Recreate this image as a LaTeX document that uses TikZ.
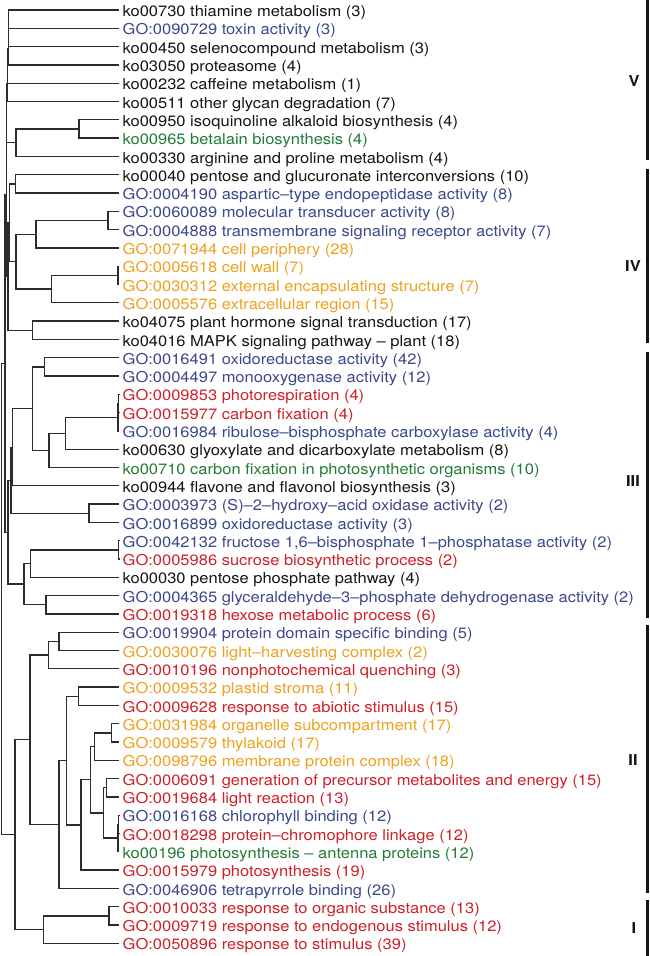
\documentclass[tikz,border=0pt]{standalone}
\usepackage{fontspec}
\setmainfont[FakeStretch=1.1]{TeX Gyre Heros}
\usetikzlibrary{calc}
\definecolor{gblue}{RGB}{58,72,140}
\definecolor{gorange}{RGB}{238,160,30}
\definecolor{gred}{RGB}{206,32,40}
\definecolor{ggreen}{RGB}{34,124,56}
\definecolor{ink}{RGB}{20,20,20}
\tikzset{
  br/.style={draw=ink!90, line width=1.35pt},
  lab/.style={inner sep=0pt, font=\fontsize{15pt}{17pt}\selectfont},
  bar/.style={draw=ink, line width=3pt},
  cl/.style={inner sep=0pt, font=\fontsize{15pt}{17pt}\selectfont\bfseries, text=ink},
}
\newcommand\mkleaf[3]{%
  \coordinate (t#1) at (119,{10+18.3*#1});
  \node[lab, text=#2, anchor=base west] (l#1) at (122.5,{10+18.3*#1+6.6}) {#3};
}
\newcommand\mkjoin[4]{%
  \path let \p1=($(#3)!0.5!(#4)$) in coordinate (#1) at (#2pt,\y1);
  \draw[br] (#1) |- (#3) (#1) |- (#4);
}
\begin{document}
\begin{tikzpicture}[x=1pt,y=-1pt]
\useasboundingbox (0,0) rectangle (650,956);
\mkleaf{0}{ink}{ko00730 thiamine metabolism (3)}
\mkleaf{1}{gblue}{GO:0090729 toxin activity (3)}
\mkleaf{2}{ink}{ko00450 selenocompound metabolism (3)}
\mkleaf{3}{ink}{ko03050 proteasome (4)}
\mkleaf{4}{ink}{ko00232 caffeine metabolism (1)}
\mkleaf{5}{ink}{ko00511 other glycan degradation (7)}
\mkleaf{6}{ink}{ko00950 isoquinoline alkaloid biosynthesis (4)}
\mkleaf{7}{ggreen}{ko00965 betalain biosynthesis (4)}
\mkleaf{8}{ink}{ko00330 arginine and proline metabolism (4)}
\mkleaf{9}{ink}{ko00040 pentose and glucuronate interconversions (10)}
\mkleaf{10}{gblue}{GO:0004190 aspartic–type endopeptidase activity (8)}
\mkleaf{11}{gblue}{GO:0060089 molecular transducer activity (8)}
\mkleaf{12}{gblue}{GO:0004888 transmembrane signaling receptor activity (7)}
\mkleaf{13}{gorange}{GO:0071944 cell periphery (28)}
\mkleaf{14}{gorange}{GO:0005618 cell wall (7)}
\mkleaf{15}{gorange}{GO:0030312 external encapsulating structure (7)}
\mkleaf{16}{gorange}{GO:0005576 extracellular region (15)}
\mkleaf{17}{ink}{ko04075 plant hormone signal transduction (17)}
\mkleaf{18}{ink}{ko04016 MAPK signaling pathway – plant (18)}
\mkleaf{19}{gblue}{GO:0016491 oxidoreductase activity (42)}
\mkleaf{20}{gblue}{GO:0004497 monooxygenase activity (12)}
\mkleaf{21}{gred}{GO:0009853 photorespiration (4)}
\mkleaf{22}{gred}{GO:0015977 carbon fixation (4)}
\mkleaf{23}{gblue}{GO:0016984 ribulose–bisphosphate carboxylase activity (4)}
\mkleaf{24}{ink}{ko00630 glyoxylate and dicarboxylate metabolism (8)}
\mkleaf{25}{ggreen}{ko00710 carbon fixation in photosynthetic organisms (10)}
\mkleaf{26}{ink}{ko00944 flavone and flavonol biosynthesis (3)}
\mkleaf{27}{gblue}{GO:0003973 (S)–2–hydroxy–acid oxidase activity (2)}
\mkleaf{28}{gblue}{GO:0016899 oxidoreductase activity (3)}
\mkleaf{29}{gblue}{GO:0042132 fructose 1,6–bisphosphate 1–phosphatase activity (2)}
\mkleaf{30}{gred}{GO:0005986 sucrose biosynthetic process (2)}
\mkleaf{31}{ink}{ko00030 pentose phosphate pathway (4)}
\mkleaf{32}{gblue}{GO:0004365 glyceraldehyde–3–phosphate dehydrogenase activity (2)}
\mkleaf{33}{gred}{GO:0019318 hexose metabolic process (6)}
\mkleaf{34}{gblue}{GO:0019904 protein domain specific binding (5)}
\mkleaf{35}{gorange}{GO:0030076 light–harvesting complex (2)}
\mkleaf{36}{gred}{GO:0010196 nonphotochemical quenching (3)}
\mkleaf{37}{gorange}{GO:0009532 plastid stroma (11)}
\mkleaf{38}{gred}{GO:0009628 response to abiotic stimulus (15)}
\mkleaf{39}{gorange}{GO:0031984 organelle subcompartment (17)}
\mkleaf{40}{gorange}{GO:0009579 thylakoid (17)}
\mkleaf{41}{gorange}{GO:0098796 membrane protein complex (18)}
\mkleaf{42}{gred}{GO:0006091 generation of precursor metabolites and energy (15)}
\mkleaf{43}{gred}{GO:0019684 light reaction (13)}
\mkleaf{44}{gblue}{GO:0016168 chlorophyll binding (12)}
\mkleaf{45}{gred}{GO:0018298 protein–chromophore linkage (12)}
\mkleaf{46}{ggreen}{ko00196 photosynthesis – antenna proteins (12)}
\mkleaf{47}{gred}{GO:0015979 photosynthesis (19)}
\mkleaf{48}{gblue}{GO:0046906 tetrapyrrole binding (26)}
\mkleaf{49}{gred}{GO:0010033 response to organic substance (13)}
\mkleaf{50}{gred}{GO:0009719 response to endogenous stimulus (12)}
\mkleaf{51}{gred}{GO:0050896 response to stimulus (39)}
% cluster V
\mkjoin{a1}{8.3}{t0}{t1}
\mkjoin{a2}{8.3}{a1}{t2}
\mkjoin{a3}{8.3}{a2}{t3}
\mkjoin{a4}{7.3}{a3}{t4}
\mkjoin{a5}{7.3}{a4}{t5}
\mkjoin{c}{79}{t6}{t7}
\mkjoin{d}{16}{c}{t8}
\mkjoin{nV}{6.7}{a5}{d}
% cluster IV
\mkjoin{e}{15.3}{t9}{t10}
\mkjoin{f}{108}{t11}{t12}
\mkjoin{g}{36}{f}{t13}
\mkjoin{h}{118}{t14}{t15}
\mkjoin{i}{51.7}{h}{t16}
\mkjoin{j}{16}{g}{i}
\mkjoin{k}{9.3}{e}{j}
\mkjoin{l}{32.3}{t17}{t18}
\mkjoin{nIV}{8}{k}{l}
\mkjoin{nVIV}{6.3}{nV}{nIV}
% cluster III
\mkjoin{o1}{44.3}{t19}{t20}
\mkjoin{o2a}{118.5}{t21}{t22}
\mkjoin{o2}{118}{o2a}{t23}
\mkjoin{o3}{65.7}{o2}{t24}
\mkjoin{o4}{49}{o3}{t25}
\mkjoin{o5}{32.3}{o1}{o4}
\mkjoin{o6}{12.3}{o5}{t26}
\mkjoin{o7}{89}{t27}{t28}
\mkjoin{o8}{11}{o6}{o7}
\mkjoin{o9a}{118.5}{t29}{t30}
\mkjoin{o9}{30.7}{o9a}{t31}
\mkjoin{o10}{46}{t32}{t33}
\mkjoin{o11}{24}{o9}{o10}
\mkjoin{nIII}{8}{o8}{o11}
\mkjoin{nX}{5}{nVIV}{nIII}
% cluster II
\mkjoin{p1}{59}{t34}{t35}
\mkjoin{p2}{48.3}{p1}{t36}
\mkjoin{p3}{78.3}{t37}{t38}
\mkjoin{p4}{111.7}{t39}{t40}
\mkjoin{p5}{94.3}{p4}{t41}
\mkjoin{p6}{106.7}{t42}{t43}
\mkjoin{p7a}{118.5}{t44}{t45}
\mkjoin{p7}{118}{p7a}{t46}
\mkjoin{p8}{103.3}{p6}{p7}
\mkjoin{p9}{90.7}{p5}{p8}
\mkjoin{p10}{81}{p9}{t47}
\mkjoin{p11}{66.7}{p3}{p10}
\mkjoin{p12}{59}{p11}{t48}
\mkjoin{nII}{30}{p2}{p12}
% cluster I
\mkjoin{q1}{109}{t49}{t50}
\mkjoin{nI}{43.3}{q1}{t51}
\mkjoin{nIandII}{15}{nII}{nI}
\mkjoin{root}{1.2}{nX}{nIandII}
% cluster bars
\coordinate (b5t) at (647.5,0);   \coordinate (b5b) at (647.5,160);
\coordinate (b4t) at (647.5,169); \coordinate (b4b) at (647.5,343);
\coordinate (b3t) at (647.5,352); \coordinate (b3b) at (647.5,618);
\coordinate (b2t) at (647.5,625); \coordinate (b2b) at (647.5,893);
\coordinate (b1t) at (647.5,900); \coordinate (b1b) at (647.5,956);
\draw[bar] (b5t) -- (b5b);
\draw[bar] (b4t) -- (b4b);
\draw[bar] (b3t) -- (b3b);
\draw[bar] (b2t) -- (b2b);
\draw[bar] (b1t) -- (b1b);
\node[cl] (cV) at (634,81) {V};
\node[cl] (cIV) at (633,266) {IV};
\node[cl] (cIII) at (633,481) {III};
\node[cl] (cII) at (633,760) {II};
\node[cl] (cI) at (634,928) {I};
\end{tikzpicture}
\end{document}
